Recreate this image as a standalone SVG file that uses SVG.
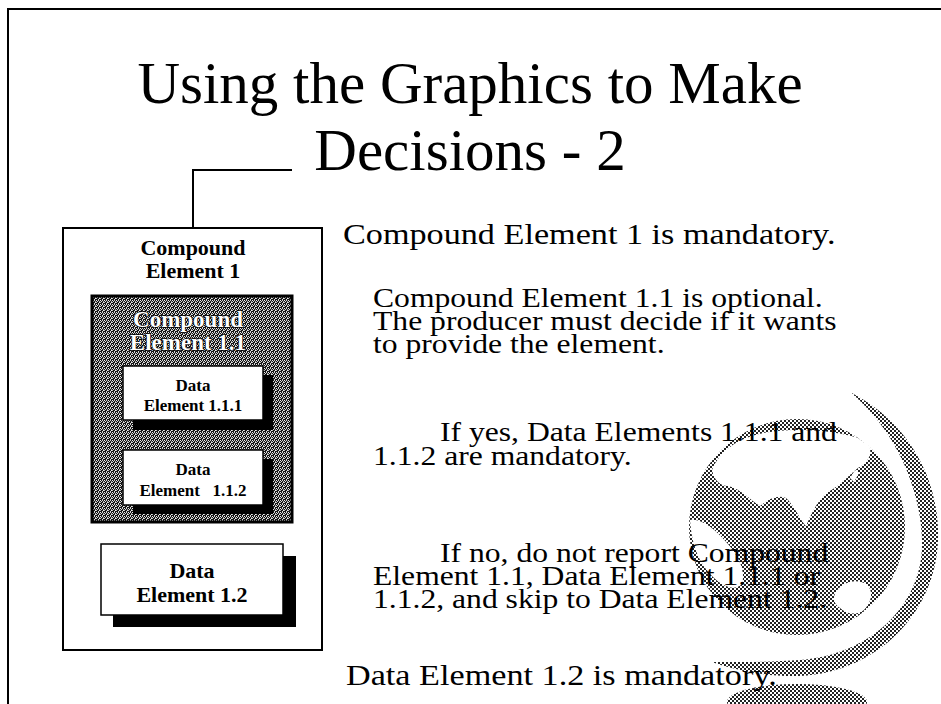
<svg xmlns="http://www.w3.org/2000/svg" width="941" height="704" viewBox="0 0 941 704">
  <defs>
    <!-- light dither used for the globe -->
    <pattern id="dots" width="4" height="4" patternUnits="userSpaceOnUse">
      <rect width="4" height="4" fill="#fff"/>
      <rect x="0" y="0" width="2" height="2" fill="#222"/>
      <rect x="2" y="2" width="2" height="2" fill="#222"/>
    </pattern>
    <!-- heavier dither used for the compound box -->
    <pattern id="dark" width="4" height="4" patternUnits="userSpaceOnUse">
      <rect width="4" height="4" fill="#151515"/>
      <rect x="0" y="0" width="1" height="1" fill="#eee"/>
      <rect x="2" y="0" width="1" height="1" fill="#ccc"/>
      <rect x="1" y="1" width="1" height="1" fill="#ddd"/>
      <rect x="3" y="2" width="1" height="1" fill="#eee"/>
      <rect x="0" y="2" width="1" height="1" fill="#bbb"/>
      <rect x="2" y="3" width="1" height="1" fill="#ddd"/>
      <rect x="3" y="1" width="1" height="1" fill="#999"/>
    </pattern>
    <clipPath id="sphereClip">
      <circle cx="797" cy="527" r="108"/>
    </clipPath>
  </defs>
  <style>
    .frame { fill: none; stroke: #000; stroke-width: 2; }
    .title { font-family: "Liberation Serif", "Times New Roman", serif; font-size: 59px; text-anchor: middle; fill: #000; }
    .body { font-family: "Liberation Serif", "Times New Roman", serif; font-size: 28px; fill: #000; }
    .big { font-size: 30px; }
    .lbl { font-family: "Liberation Serif", "Times New Roman", serif; font-weight: bold; text-anchor: middle; fill: #000; }
    .outline { font-family: "Liberation Serif", "Times New Roman", serif; font-weight: bold; font-size: 23px; text-anchor: middle; fill: #fff; stroke: #000; stroke-width: 1.4; paint-order: stroke; }
    .box { fill: #fff; stroke: #000; stroke-width: 1.5; }
    .shadow { fill: #000; }
    .link { fill: none; stroke: #000; stroke-width: 2; }
  </style>

  <rect width="941" height="704" fill="#fff"/>

  <!-- page frame: top and left rules -->
  <path class="frame" d="M8,704 V9 H941"/>

  <!-- globe: meridian ring, sphere with land masses, stand base -->
  <g id="globe">
    <path fill="url(#dots)" d="M850,392 C905,420 940,475 938,540 C936,610 880,672 800,676 C765,677 735,670 712,662 C745,662 775,662 800,660 C870,655 924,605 922,540 C920,480 890,425 850,392 Z"/>
    <circle cx="797" cy="527" r="108" fill="url(#dots)"/>
    <g clip-path="url(#sphereClip)" fill="#fff">
      <path d="M712,470 C720,450 740,436 770,432 C800,428 835,430 865,440 C875,450 870,462 858,468 C848,476 840,486 828,492 C818,500 812,512 806,526 C800,520 794,505 786,498 C776,494 768,500 760,506 C750,500 740,488 728,486 C720,486 714,480 712,470 Z"/>
      <path d="M690,520 C702,518 716,530 728,544 C738,556 746,570 742,584 C734,592 722,586 712,576 C700,564 692,548 690,520 Z"/>
      <path d="M836,592 C842,582 856,578 866,584 C874,590 872,602 864,610 C856,616 846,614 840,608 C834,604 832,598 836,592 Z"/>
      <path d="M850,478 l5,-8 l4,3 l-5,9 Z"/>
      <path d="M878,604 l6,-4 l3,4 l-6,5 Z"/>
    </g>
    <ellipse cx="797" cy="702" rx="70" ry="18" fill="url(#dots)"/>
  </g>

  <!-- title -->
  <text class="title" x="470" y="103">Using the Graphics to Make</text>
  <text class="title" x="470" y="170">Decisions - 2</text>

  <!-- connector from the parent into Compound Element 1 -->
  <g id="connectors">
    <path class="link" d="M193,228 V170 H292"/>
  </g>

  <!-- Compound Element 1 -->
  <g id="compound-element-1">
    <rect x="63" y="228" width="259" height="422" fill="#fff" stroke="#000" stroke-width="2"/>
    <text class="lbl" font-size="22" x="193" y="255">Compound</text>
    <text class="lbl" font-size="22" x="193" y="278">Element 1</text>
  </g>

  <!-- Compound Element 1.1 (optional) -->
  <g id="compound-element-1-1">
    <rect x="92" y="296" width="200" height="226" fill="url(#dark)" stroke="#000" stroke-width="3"/>
    <text class="outline" x="188" y="327">Compound</text>
    <text class="outline" x="188" y="350">Element 1.1</text>
  </g>

  <!-- Data Element 1.1.1 -->
  <g id="data-element-1-1-1">
    <rect class="shadow" x="133" y="375" width="140" height="55"/>
    <rect class="box" x="123" y="366" width="140" height="54"/>
    <text class="lbl" font-size="17" x="193" y="391">Data</text>
    <text class="lbl" font-size="17" x="193" y="411">Element 1.1.1</text>
  </g>

  <!-- Data Element 1.1.2 -->
  <g id="data-element-1-1-2">
    <rect class="shadow" x="133" y="459" width="140" height="55"/>
    <rect class="box" x="123" y="450" width="140" height="55"/>
    <text class="lbl" font-size="17" x="193" y="475">Data</text>
    <text class="lbl" font-size="17" x="193" y="496" style="white-space:pre">Element   1.1.2</text>
  </g>

  <!-- Data Element 1.2 -->
  <g id="data-element-1-2">
    <rect class="shadow" x="113" y="556" width="183" height="71"/>
    <rect class="box" x="101" y="544" width="182" height="71"/>
    <text class="lbl" font-size="22" x="192" y="578">Data</text>
    <text class="lbl" font-size="22" x="192" y="602">Element 1.2</text>
  </g>

  <!-- explanatory notes (slightly widened face) -->
  <g id="notes">
    <text class="body big" transform="translate(343,244) scale(1.14,1)">Compound Element 1 is mandatory.</text>
    <text class="body" transform="translate(373,307) scale(1.13,1)">Compound Element 1.1 is optional.</text>
    <text class="body" transform="translate(373,330) scale(1.13,1)">The producer must decide if it wants</text>
    <text class="body" transform="translate(373,353) scale(1.13,1)">to provide the element.</text>
    <text class="body" transform="translate(440,441) scale(1.13,1)">If yes, Data Elements 1.1.1 and</text>
    <text class="body" transform="translate(373,465) scale(1.13,1)">1.1.2 are mandatory.</text>
    <text class="body" transform="translate(440,562) scale(1.13,1)">If no, do not report Compound</text>
    <text class="body" transform="translate(373,585) scale(1.13,1)">Element 1.1, Data Element 1.1.1 or</text>
    <text class="body" transform="translate(373,608) scale(1.13,1)">1.1.2, and skip to Data Element 1.2.</text>
    <text class="body big" transform="translate(346,685) scale(1.14,1)">Data Element 1.2 is mandatory.</text>
  </g>
</svg>
